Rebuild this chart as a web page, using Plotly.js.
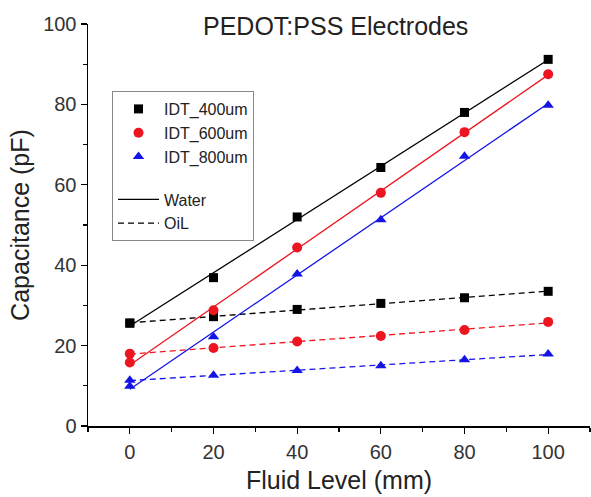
<!DOCTYPE html>
<html>
<head>
<meta charset="utf-8">
<script src="https://cdn.plot.ly/plotly-3.0.1.min.js"></script>
<style>html,body{margin:0;padding:0;background:#fff;}#chart{width:591px;height:497px;}</style>
</head>
<body>
<div id="chart"></div>
<script>
var fluidLevel = [0, 20, 40, 60, 80, 100];
var water400 = [25.6, 36.9, 52.0, 64.3, 78.0, 91.2];
var water600 = [15.8, 28.8, 44.4, 58.0, 73.1, 87.5];
var water800 = [9.9, 22.2, 37.8, 51.3, 67.1, 79.8];
var oil400 = [25.6, 27.2, 29.0, 30.5, 31.9, 33.5];
var oil600 = [18.0, 19.4, 21.0, 22.4, 23.9, 25.9];
var oil800 = [11.4, 12.6, 13.8, 15.0, 16.5, 17.9];
var seriesNames = ['IDT_400um', 'IDT_600um', 'IDT_800um'];
var fluidNames = ['Water', 'OiL'];

function fit(x, y) {
  var n = x.length, mx = 0, my = 0;
  for (var i = 0; i < n; i++) { mx += x[i]; my += y[i]; }
  mx /= n; my /= n;
  var sxy = 0, sxx = 0;
  for (var j = 0; j < n; j++) { sxy += (x[j]-mx)*(y[j]-my); sxx += (x[j]-mx)*(x[j]-mx); }
  var b = sxy / sxx, a = my - b*mx;
  var x0 = x[0], x1 = x[n-1];
  return {x: [x0, x1], y: [a + b*x0, a + b*x1]};
}

var colors = ['#000000', '#ec1520', '#1414e6'];
var symbols = ['square', 'circle', 'triangle-up'];
var sizes = [9, 10, 10];
var water = [water400, water600, water800];
var oil = [oil400, oil600, oil800];

var traces = [];
for (var k = 0; k < 3; k++) {
  var fw = fit(fluidLevel, water[k]);
  traces.push({x: fw.x, y: fw.y, mode: 'lines', line: {color: colors[k], width: 1.3}, showlegend: false, hoverinfo: 'skip'});
  var fo = fit(fluidLevel, oil[k]);
  traces.push({x: fo.x, y: fo.y, mode: 'lines', line: {color: colors[k], width: 1.3, dash: '6px,4px'}, showlegend: false, hoverinfo: 'skip'});
}
for (var m = 0; m < 3; m++) {
  traces.push({x: fluidLevel, y: oil[m], mode: 'markers', marker: {symbol: symbols[m], size: sizes[m], color: colors[m]}, showlegend: false});
  traces.push({x: fluidLevel, y: water[m], mode: 'markers', name: seriesNames[m], legendgroup: 'a', legendrank: m+1,
    marker: {symbol: symbols[m], size: sizes[m], color: colors[m]}});
}
traces.push({x: [null], y: [null], mode: 'lines', name: fluidNames[0], legendgroup: 'b', legendrank: 10, line: {color: '#000', width: 1.3}});
traces.push({x: [null], y: [null], mode: 'lines', name: fluidNames[1], legendgroup: 'b', legendrank: 11, line: {color: '#000', width: 1.3, dash: '6px,4px'}});

var fontFam = 'Liberation Sans, Arial, sans-serif';
var layout = {
  width: 591, height: 497,
  margin: {l: 88, r: 1, t: 24, b: 71},
  paper_bgcolor: '#fff', plot_bgcolor: '#fff',
  font: {family: fontFam, color: '#222', size: 16},
  title: {text: 'PEDOT:PSS Electrodes', font: {size: 25, color: '#222'}, x: 0.568, xanchor: 'center', y: 0.947, yanchor: 'middle'},
  xaxis: {
    range: [-10, 110], showgrid: false, zeroline: false,
    showline: true, linecolor: '#000', linewidth: 1.5, mirror: false,
    tickmode: 'array', tickvals: [0, 20, 40, 60, 80, 100],
    ticks: 'outside', ticklen: 6, tickwidth: 1.3, tickcolor: '#000',
    minor: {tickmode: 'array', tickvals: [-10, 10, 30, 50, 70, 90, 110], ticks: 'outside', ticklen: 4, tickwidth: 1.2, tickcolor: '#000', showgrid: false},
    tickfont: {size: 20, color: '#333'},
    ticklabelstandoff: 1,
    title: {text: 'Fluid Level (mm)', font: {size: 25, color: '#222'}, standoff: 10}
  },
  yaxis: {
    range: [0, 100], showgrid: false, zeroline: false,
    showline: true, linecolor: '#000', linewidth: 1.5, mirror: false,
    tickmode: 'array', tickvals: [0, 20, 40, 60, 80, 100],
    ticks: 'outside', ticklen: 6, tickwidth: 1.3, tickcolor: '#000',
    minor: {tickmode: 'array', tickvals: [10, 30, 50, 70, 90], ticks: 'outside', ticklen: 4, tickwidth: 1.2, tickcolor: '#000', showgrid: false},
    tickfont: {size: 20, color: '#333'},
    title: {text: 'Capacitance (pF)', font: {size: 25, color: '#222'}, standoff: 6}
  },
  legend: {
    x: (112-88)/502, y: 1-(91-24)/402, xanchor: 'left', yanchor: 'top',
    bgcolor: 'rgba(255,255,255,0)', bordercolor: '#888', borderwidth: 1,
    font: {size: 16, color: '#222'},
    traceorder: 'grouped', tracegroupgap: 19,
    itemwidth: 41
  },
  showlegend: true
};

Plotly.newPlot('chart', traces, layout, {displayModeBar: false, staticPlot: true});
</script>
</body>
</html>
